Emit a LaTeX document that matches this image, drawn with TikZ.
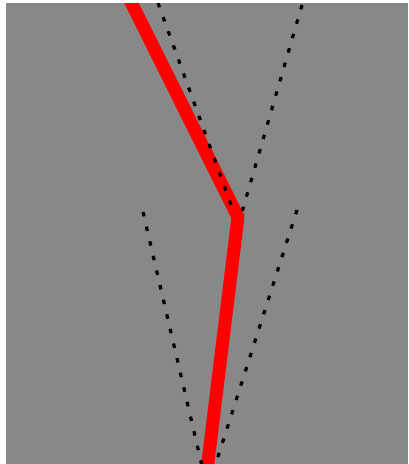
\documentclass[tikz,border=0pt]{standalone}
\definecolor{bggray}{RGB}{136,136,136}
\definecolor{redline}{RGB}{255,0,0}
\begin{document}
\begin{tikzpicture}[x=1pt,y=-1pt,
  redpath/.style={draw=redline,line width=13pt,line join=round},
  guide/.style={draw=black,line width=3.2pt,dash pattern=on 4.5pt off 10.5pt}]
\useasboundingbox (0,0) rectangle (409,464);
\fill[white] (0,0) rectangle (409,464);
\fill[bggray] (6,3) rectangle (408,464);
\begin{scope}
\clip (6,3) rectangle (408,464);
% red path
\coordinate (r0) at (129,-2);
\coordinate (rk) at (238,217);
\coordinate (r1) at (207,470);
\draw[redpath] (r0) -- (rk) -- (r1);
% upper guides
\coordinate (ul0) at (158,3);
\coordinate (ul1) at (234,213);
\coordinate (ur0) at (302,5);
\coordinate (ur1) at (242,212);
\draw[guide] (ul0) -- (ul1);
\draw[guide] (ur0) -- (ur1);
% lower guides
\coordinate (ll0) at (143,212);
\coordinate (ll1) at (202,466);
\coordinate (lr0) at (297,210);
\coordinate (lr1) at (215,466);
\draw[guide] (ll0) -- (ll1);
\draw[guide] (lr0) -- (lr1);
\end{scope}
\end{tikzpicture}
\end{document}
